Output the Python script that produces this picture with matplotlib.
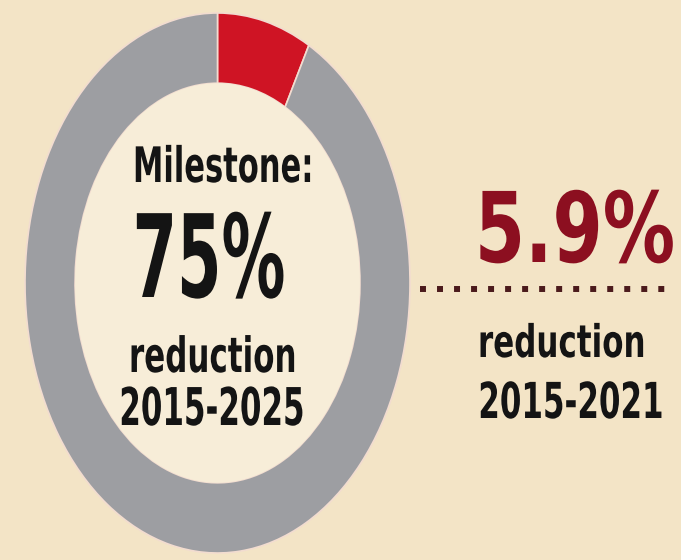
import matplotlib.pyplot as plt
from matplotlib import patheffects
from matplotlib.transforms import Affine2D
from matplotlib.patches import Circle

# ===== Data =====
achieved = 5.9        # % reduction 2015-2021
milestone = 75        # % reduction target 2015-2025
ring_values = [achieved, milestone - achieved]
ring_colors = ["#cf1424", "#9d9ea2"]

left_labels = ["Milestone:", f"{milestone}%", "reduction", "2015-2025"]
right_labels = [f"{achieved}%", "reduction", "2015-2021"]

bg = "#f3e4c6"
hole = "#f7edd8"


# the original lettering is tall and narrow, stretch glyphs upward from the baseline
class Stretch(patheffects.AbstractPathEffect):
    def __init__(self, sy):
        super().__init__()
        self.sy = sy

    def draw_path(self, renderer, gc, tpath, affine, rgbFace=None):
        renderer.draw_path(gc, tpath, Affine2D().scale(1, self.sy) + affine, rgbFace)


fig = plt.figure(figsize=(6.81, 5.60), dpi=100, facecolor=bg)

# ===== Donut =====
ax = fig.add_axes([25 / 681, 7 / 560, 385 / 681, 540 / 560])
ax.pie(ring_values, colors=ring_colors, startangle=90, counterclock=False,
       radius=1, wedgeprops=dict(width=0.26, edgecolor="#f2dcd0", linewidth=1.2))
ax.add_patch(Circle((0, 0), 0.74, facecolor=hole, edgecolor="none"))
ax.set_aspect("auto")
ax.set_xlim(-1, 1)
ax.set_ylim(-1, 1)
ax.axis("off")

# ===== Text + dotted connector (pixel coords) =====
ov = fig.add_axes([0, 0, 1, 1], facecolor="none")
ov.set_xlim(0, 681)
ov.set_ylim(560, 0)
ov.axis("off")

font = dict(family="DejaVu Sans", weight="bold", ha="center", va="baseline")

# left block: (x, baseline, size, stretch)
left_pos = [(223, 182, 22, 1.6), (209, 297, 46, 1.8), (213, 372, 22.3, 1.57), (212, 425, 22.3, 1.68)]
for s, (x, y, fs, sy) in zip(left_labels, left_pos):
    ov.text(x, y, s, fontsize=fs, color="#141414", path_effects=[Stretch(sy)], **font)

right_pos = [(575, 262, 52, 1.35), (562, 357, 22.3, 1.45), (571, 418, 22.3, 1.6)]
right_colors = ["#8c0f20", "#141414", "#141414"]
for s, (x, y, fs, sy), c in zip(right_labels, right_pos, right_colors):
    ov.text(x, y, s, fontsize=fs, color=c, path_effects=[Stretch(sy)], **font)

ov.plot([420, 672], [289, 289], color="#4b1a1c", lw=4.3,
        linestyle=(0, (1, 1.85)), solid_capstyle="butt", dash_capstyle="butt")

fig.savefig("out.png", dpi=100, facecolor=bg)
